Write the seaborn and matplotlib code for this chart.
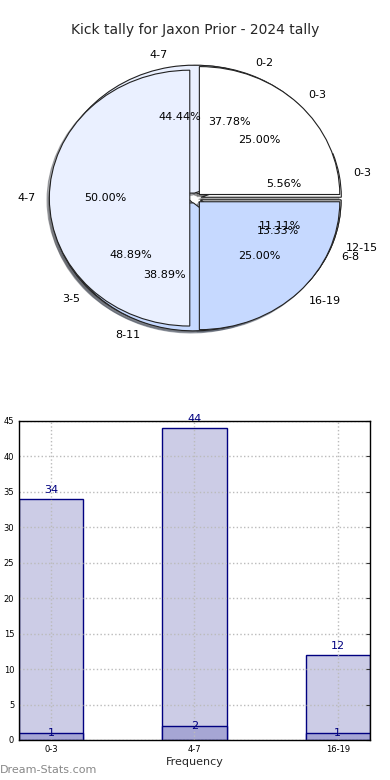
import matplotlib
matplotlib.use("Agg")
import matplotlib.pyplot as plt
import seaborn as sns
import numpy as np

# ---- data ----
title = "Kick tally for Jaxon Prior - 2024 tally"
# main pie (top layer)
pie_b_labels = ["0-3", "4-7", "16-19"]
pie_b_values = [1, 2, 1]
# overlaid pies underneath
pie_a_labels = ["0-2", "3-5", "6-8"]
pie_a_values = [34, 44, 12]
pie_c_labels = ["0-3", "4-7", "8-11", "12-15"]
pie_c_values = [1, 8, 7, 2]
# bar chart
bar_cats = ["0-3", "4-7", "16-19"]
bar_totals = [34, 44, 12]
bar_small = [1, 2, 1]
yticks = [0, 5, 10, 15, 20, 25, 30, 35, 40, 45]

sns.set_style("white")
plt.rcParams['font.family'] = ['DejaVu Sans']

fig = plt.figure(figsize=(3.9, 7.8), dpi=100)

pie_colors = ['#ffffff', '#eaf0ff', '#c6d9ff']
wp = dict(edgecolor='#222222', linewidth=0.8)
txt = dict(fontsize=8, color='black')
shadow = dict(ox=-0.012, oy=-0.012, shade=0.6)

# ---- pie ----
ax1 = fig.add_axes([0.051, 0.541, 0.900, 0.410])
for labels, values in [(pie_a_labels, pie_a_values), (pie_c_labels, pie_c_values),
                       (pie_b_labels, pie_b_values)]:
    n = len(values)
    cols = [pie_colors[i % 3] for i in range(n)]
    ax1.pie(values, labels=labels, autopct='%1.2f%%', startangle=0,
            colors=cols, explode=[0.04] * n, shadow=shadow,
            wedgeprops=wp, textprops=txt)
ax1.set_aspect('auto')
ax1.set_xlim(-1.25, 1.25)
ax1.set_ylim(-1.25, 1.25)
fig.text(0.5, 1 - 30 / 780, title, ha='center', va='center', fontsize=10)

# ---- bars ----
ax2 = fig.add_axes([0.0487, 0.0513, 0.9, 0.409])
sns.barplot(x=bar_cats, y=bar_totals, width=0.45, color='#ccccE6', saturation=1,
            edgecolor='#000080', linewidth=1.0, ax=ax2)
sns.barplot(x=bar_cats, y=bar_small, width=0.45, color='#a6a6d4', saturation=1,
            edgecolor='#000080', linewidth=1.0, ax=ax2)
ax2.set_xlim(-0.225, 2.225)
ax2.set_ylim(0, 45)
ax2.set_yticks(yticks)
ax2.grid(True, linestyle=':', color='#bbbbbb', linewidth=1.0)
ax2.set_axisbelow(False)
for sp in ax2.spines.values():
    sp.set_visible(True)
    sp.set_color('black')
    sp.set_linewidth(1.0)
    sp.set_zorder(6)
ax2.tick_params(axis='both', labelsize=6, direction='in', length=3, right=True,
                colors='#333333', labelcolor='black')
for i, (t, s) in enumerate(zip(bar_totals, bar_small)):
    ax2.annotate(str(t), (i, t), xytext=(0, 6.5), textcoords='offset points',
                 ha='center', va='center', color='#000080', fontsize=8)
    ax2.annotate(str(s), (i, s), ha='center', va='center', color='#000080', fontsize=8)
ax2.set_xlabel("Frequency", fontsize=8, labelpad=2)
ax2.set_ylabel("")

fig.text(0.0, 1 - 770 / 780, "Dream-Stats.com", ha='left', va='center',
         fontsize=8, color='#888888')

fig.savefig("out.png", dpi=100)
